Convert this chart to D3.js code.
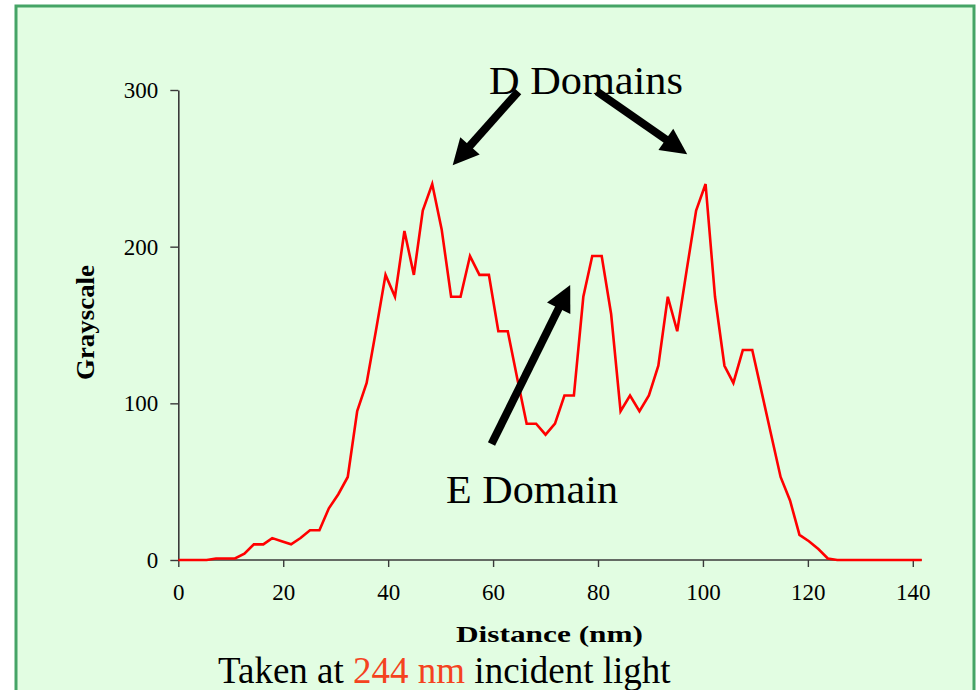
<!DOCTYPE html>
<html>
<head>
<meta charset="utf-8">
<script src="https://cdn.jsdelivr.net/npm/d3@7"></script>
<style>
  html, body { margin: 0; padding: 0; background: #ffffff; }
  svg { display: block; }
</style>
</head>
<body>
<svg id="chart" width="977" height="690"></svg>
<script>
// ---- data ----
const distanceNm = [
  0, 1.8, 3.6, 5.4, 7.2, 9.0, 10.8, 12.6, 14.4, 16.2,
  17.9, 19.7, 21.5, 23.3, 25.1, 26.9, 28.7, 30.5, 32.3, 34.1,
  35.9, 37.7, 39.5, 41.3, 43.1, 44.9, 46.6, 48.4, 50.2, 52.0,
  53.8, 55.6, 57.4, 59.2, 61.0, 62.8, 64.6, 66.4, 68.2, 70.0,
  71.8, 73.6, 75.4, 77.2, 78.9, 80.7, 82.5, 84.3, 86.1, 87.9,
  89.7, 91.5, 93.3, 95.1, 96.9, 98.7, 100.5, 102.3, 104.1, 105.8,
  107.6, 109.4, 111.2, 113.0, 114.8, 116.6, 118.4, 120.2, 122.0, 123.8,
  125.6, 127.4, 129.2, 131.0, 132.8, 134.6, 136.4, 138.2, 140.0, 141.7
];
const grayscale = [
  0, 0, 0, 0, 1, 1, 1, 4, 10, 10,
  14, 12, 10, 14, 19, 19, 33, 42, 53, 95,
  113, 147, 182, 168, 210, 182, 223, 240, 211, 168,
  168, 194, 182, 182, 146, 146, 116, 87, 87, 80,
  87, 105, 105, 168, 194, 194, 157, 95, 105, 95,
  105, 124, 168, 146, 185, 223, 240, 168, 124, 113,
  134, 134, 107, 80, 53, 38, 16, 12, 7, 1,
  0, 0, 0, 0, 0, 0, 0, 0, 0, 0
];
const xTicks = [0, 20, 40, 60, 80, 100, 120, 140];
const yTicks = [0, 100, 200, 300];
const xAxisTitle = "Distance (nm)";
const yAxisTitle = "Grayscale";
// annotations: [label, tail x, tail y, tip x, tip y] in data units
const arrows = [
  ["D-left", 64.8, 299, 52.3, 252],
  ["D-right", 79.8, 299, 97.0, 259],
  ["E", 59.7, 74, 74.7, 175.5]
];

// ---- drawing ----
const FONT = "'Liberation Serif', 'Times New Roman', Times, serif";
const svg = d3.select("#chart");

// slide panel
svg.append("rect")
  .attr("x", 16).attr("y", 6)
  .attr("width", 958).attr("height", 700)
  .attr("fill", "#e2fde2")
  .attr("stroke", "#45a466")
  .attr("stroke-width", 3);

const x = d3.scaleLinear().domain([0, 140]).range([178.3, 912.8]);
const y = d3.scaleLinear().domain([0, 300]).range([560, 90]);

const axisColor = "#3a3a3a";

// x axis
const gx = svg.append("g")
  .attr("transform", `translate(0,${y(0)})`)
  .call(d3.axisBottom(x).tickValues(xTicks).tickSize(7).tickSizeOuter(0).tickPadding(17));
gx.select(".domain").remove();
gx.append("line")
  .attr("x1", x(0)).attr("x2", x(d3.max(distanceNm)))
  .attr("stroke", axisColor).attr("stroke-width", 1.6);
gx.selectAll(".tick line").attr("stroke", axisColor).attr("stroke-width", 1.4);
gx.selectAll(".tick text")
  .attr("font-family", FONT)
  .attr("font-size", 23).attr("fill", "#000");

// y axis
const gy = svg.append("g")
  .attr("transform", `translate(${x(0)},0)`)
  .call(d3.axisLeft(y).tickValues(yTicks).tickSize(8).tickSizeOuter(0).tickPadding(12));
gy.select(".domain").attr("stroke", axisColor).attr("stroke-width", 1.6);
gy.selectAll(".tick line").attr("stroke", axisColor).attr("stroke-width", 1.4);
gy.selectAll(".tick text")
  .attr("font-family", FONT)
  .attr("font-size", 23).attr("fill", "#000");

// data line
const pts = distanceNm.map((d, i) => [d, grayscale[i]]);
svg.append("path")
  .datum(pts)
  .attr("fill", "none")
  .attr("stroke", "#ff0000")
  .attr("stroke-width", 2.6)
  .attr("stroke-linejoin", "miter")
  .attr("d", d3.line().x(d => x(d[0])).y(d => y(d[1])));

// axis titles
svg.append("text")
  .attr("x", 456).attr("y", 642)
  .attr("font-family", FONT)
  .attr("font-size", 24).attr("font-weight", "bold")
  .attr("textLength", 187).attr("lengthAdjust", "spacingAndGlyphs")
  .text(xAxisTitle);

svg.append("text")
  .attr("transform", "translate(94,380) rotate(-90)")
  .attr("x", 0).attr("y", 0)
  .attr("font-family", FONT)
  .attr("font-size", 25).attr("font-weight", "bold")
  .attr("textLength", 115).attr("lengthAdjust", "spacingAndGlyphs")
  .text(yAxisTitle);

// annotation labels
svg.append("text")
  .attr("x", 489).attr("y", 93.5)
  .attr("font-family", FONT)
  .attr("font-size", 41)
  .attr("textLength", 194).attr("lengthAdjust", "spacingAndGlyphs")
  .text("D Domains");

svg.append("text")
  .attr("x", 446).attr("y", 502.5)
  .attr("font-family", FONT)
  .attr("font-size", 41)
  .attr("textLength", 172).attr("lengthAdjust", "spacingAndGlyphs")
  .text("E Domain");

// arrows
function arrow(x1, y1, x2, y2) {
  const dx = x2 - x1, dy = y2 - y1;
  const len = Math.hypot(dx, dy);
  const ux = dx / len, uy = dy / len;
  const headLen = 26, headHalf = 13, shaft = 8;
  const bx = x2 - ux * headLen, by = y2 - uy * headLen;
  svg.append("line")
    .attr("x1", x1).attr("y1", y1)
    .attr("x2", bx + ux * 2).attr("y2", by + uy * 2)
    .attr("stroke", "#000").attr("stroke-width", shaft);
  svg.append("polygon")
    .attr("points", [
      [x2, y2],
      [bx - uy * headHalf, by + ux * headHalf],
      [bx + uy * headHalf, by - ux * headHalf]
    ].map(p => p.join(",")).join(" "))
    .attr("fill", "#000");
}
arrows.forEach(a => arrow(x(a[1]), y(a[2]), x(a[3]), y(a[4])));

// bottom caption
const cap = svg.append("text")
  .attr("x", 218).attr("y", 683)
  .attr("font-family", FONT)
  .attr("font-size", 37);
cap.append("tspan").attr("fill", "#000").text("Taken at ");
cap.append("tspan").attr("fill", "#f4431f").text("244 nm");
cap.append("tspan").attr("fill", "#000").text(" incident light");
</script>
</body>
</html>
